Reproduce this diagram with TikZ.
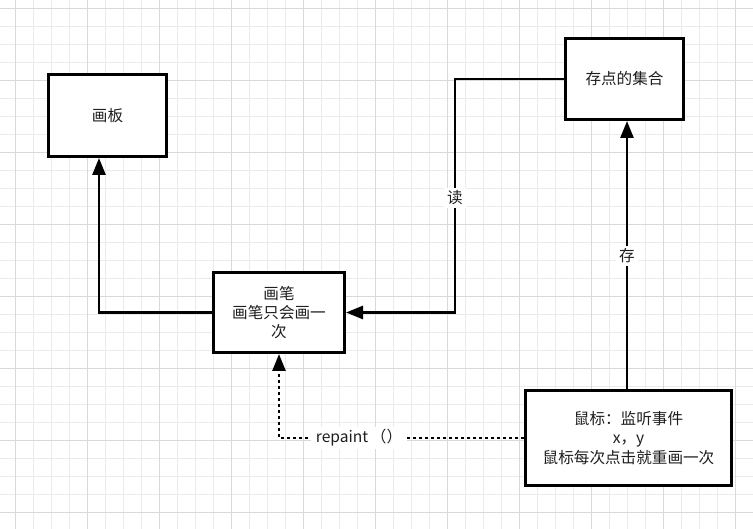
\documentclass[tikz,border=0pt]{standalone}
\usepackage{fontspec}
\newfontfamily\cjk{Noto Sans CJK SC}
\usetikzlibrary{arrows.meta}
\definecolor{gridminor}{HTML}{EBEBEB}
\definecolor{gridmajor}{HTML}{D9D9D9}
\definecolor{txt}{HTML}{1E1E1E}
\tikzset{
  boxnode/.style={draw=black, line width=2.7pt, fill=white, inner sep=0pt, align=center,
    font=\cjk\fontsize{15.6}{19.2}\selectfont, text=txt},
  conn/.style={line width=2.6pt, -{Triangle[length=17pt,width=13pt]}},
  dotconn/.style={line width=2.6pt, dash pattern=on 2.6pt off 3.4pt,
    -{Triangle[length=17pt,width=13pt]}},
  lbl/.style={fill=white, inner sep=3pt, font=\cjk\fontsize{15.6}{19}\selectfont, text=txt}
}
\begin{document}
\begin{tikzpicture}[x=1pt,y=-1pt]
\useasboundingbox (0,0) rectangle (753,529);
\fill[white] (0,0) rectangle (753,529);
% grid
\foreach \x in {15,33,...,753} \draw[gridminor, line width=0.8pt] (\x,0) -- (\x,529);
\foreach \y in {8,26,...,529} \draw[gridminor, line width=0.8pt] (0,\y) -- (753,\y);
\foreach \x in {15,87,...,753} \draw[gridmajor, line width=0.8pt] (\x,0) -- (\x,529);
\foreach \y in {8,80,...,529} \draw[gridmajor, line width=0.8pt] (0,\y) -- (753,\y);
% boxes
\node[boxnode, minimum width=118.3pt, minimum height=82.3pt] (huaban) at (107.5,115.5) {画板};
\node[boxnode, minimum width=131.3pt, minimum height=80.3pt] (huabi) at (279,312.5) {画笔\\画笔只会画一\\次};
\node[boxnode, minimum width=118.3pt, minimum height=81.3pt] (jihe) at (624.5,79) {存点的集合};
\node[boxnode, minimum width=206.3pt, minimum height=95.3pt] (mouse) at (628.5,438) {鼠标：监听事件\\x，y\\鼠标每次点击就重画一次};
% connectors
\coordinate (c1) at (99,312.5);
\draw[conn] (huabi.west) -- (c1) -- (c1 |- huaban.south);
\coordinate (c2) at (455,79);
\draw[conn] (jihe.west) -- (c2) -- (c2 |- huabi.east) -- (huabi.east);
\node[lbl] (du) at (455,198) {读};
\coordinate (c3) at (627,389);
\draw[conn] (c3) -- (c3 |- jihe.south);
\node[lbl] (cun) at (627,256) {存};
\coordinate (c4) at (279,438);
\draw[dotconn] (mouse.west) -- (c4) -- (huabi.south);
\node[lbl, inner xsep=5pt] (rp) at (359,438) {repaint\,（）};
\end{tikzpicture}
\end{document}
